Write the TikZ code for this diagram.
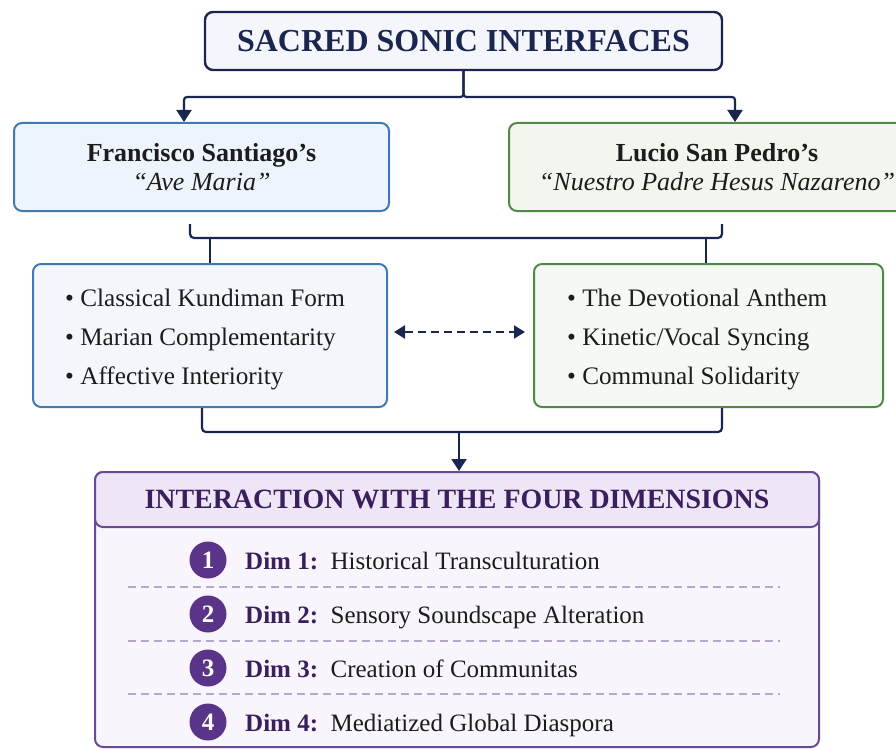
\documentclass[tikz,border=0pt]{standalone}
\usepackage{fontspec}
\setmainfont{Liberation Serif}
\usetikzlibrary{arrows.meta,calc}
\definecolor{navy}{HTML}{1B2650}
\definecolor{ink}{HTML}{1C1C1C}
\definecolor{titlefill}{HTML}{F4F6FB}
\definecolor{bluedraw}{HTML}{4279B3}
\definecolor{bluefill}{HTML}{EEF4FB}
\definecolor{greendraw}{HTML}{4F8B46}
\definecolor{greenfill}{HTML}{F1F6EE}
\definecolor{purpdraw}{HTML}{6A4A96}
\definecolor{hdrfill}{HTML}{EEE6F6}
\definecolor{bodyfill}{HTML}{F8F5FC}
\definecolor{hdrtext}{HTML}{3A1F5E}
\definecolor{circfill}{HTML}{5A3488}
\definecolor{seprule}{HTML}{B7A7CE}
\begin{document}
\begin{tikzpicture}[x=1pt,y=-1pt,
  box/.style={draw, rounded corners=8pt, line width=2pt, inner sep=0pt, align=center, text=ink},
  arr/.style={draw=navy, line width=2.2pt, rounded corners=3pt, -{Triangle[length=12pt,width=15pt]}},
  link/.style={draw=navy, line width=2.2pt, rounded corners=4pt},
  dasharr/.style={draw=navy, line width=2pt, dash pattern=on 8pt off 5pt,
     {Triangle[length=11pt,width=13pt]}-{Triangle[length=11pt,width=13pt]}},
  bul/.style={anchor=west, align=left, inner sep=0pt, text=ink, font=\fontsize{25.2}{39}\selectfont},
  numc/.style={circle, fill=circfill, minimum size=37pt, inner sep=0pt, text=white, font=\fontsize{25}{26}\selectfont\bfseries},
  dimtxt/.style={anchor=base west, inner sep=0pt, text=ink, font=\fontsize{25}{28}\selectfont},
  sep/.style={draw=seprule, line width=1.3pt, dash pattern=on 8pt off 5pt}
]
\useasboundingbox (0,0) rectangle (896,749);
\clip (0,0) rectangle (896,749);

% title
\node[box, draw=navy, fill=titlefill, line width=2.4pt, minimum width=517pt, minimum height=58pt,
      text=navy, font=\fontsize{32}{38}\selectfont\bfseries] (title) at (463.5,41) {SACRED SONIC INTERFACES};

% upper boxes
\node[box, draw=bluedraw, fill=bluefill, minimum width=375pt, minimum height=88pt,
      font=\fontsize{26}{29}\selectfont] (fs) at (201.5,167)
      {\bfseries Francisco Santiago’s\\\textit{“Ave Maria”}};
\node[box, draw=greendraw, fill=greenfill, minimum width=416pt, minimum height=88pt,
      font=\fontsize{26}{29}\selectfont] (lp) at (717,167)
      {\bfseries Lucio San Pedro’s\\\textit{“Nuestro Padre Hesus Nazareno”}};

% bullet boxes
\node[box, draw=bluedraw, fill=bluefill!70!white, minimum width=354pt, minimum height=143pt] (fsb) at (210,335.5) {};
\node[box, draw=greendraw, fill=greenfill!70!white, minimum width=349pt, minimum height=143pt] (lpb) at (708.5,335.5) {};
\node[bul] (fsbt) at (65,339) {\textbullet\ Classical Kundiman Form\\\textbullet\ Marian Complementarity\\\textbullet\ Affective Interiority};
\node[bul] (lpbt) at (567,339) {\textbullet\ The Devotional Anthem\\\textbullet\ Kinetic/Vocal Syncing\\\textbullet\ Communal Solidarity};

% bottom box
\node[box, draw=purpdraw, fill=bodyfill, minimum width=724pt, minimum height=275pt] (dims) at (457,609.5) {};
\node[box, draw=purpdraw, fill=hdrfill, minimum width=724pt, minimum height=55pt,
      text=hdrtext, font=\fontsize{27.9}{32}\selectfont\bfseries] (hdr) at (457,499.5) {INTERACTION WITH THE FOUR DIMENSIONS};

\node[numc] (n1) at (208,560) {1};
\node[numc] (n2) at (208,614) {2};
\node[numc] (n3) at (208,668) {3};
\node[numc] (n4) at (208,722) {4};
\node[dimtxt] (d1) at (245,569) {\textcolor{hdrtext}{\bfseries Dim 1:}\enspace Historical Transculturation};
\node[dimtxt] (d2) at (245,623) {\textcolor{hdrtext}{\bfseries Dim 2:}\enspace Sensory Soundscape Alteration};
\node[dimtxt] (d3) at (245,677) {\textcolor{hdrtext}{\bfseries Dim 3:}\enspace Creation of Communitas};
\node[dimtxt] (d4) at (245,731) {\textcolor{hdrtext}{\bfseries Dim 4:}\enspace Mediatized Global Diaspora};

\coordinate (s1l) at (128,587); \coordinate (s1r) at (780,587);
\coordinate (s2l) at (128,641); \coordinate (s2r) at (780,641);
\coordinate (s3l) at (128,694); \coordinate (s3r) at (780,694);
\draw[sep] (s1l) -- (s1r);
\draw[sep] (s2l) -- (s2r);
\draw[sep] (s3l) -- (s3r);

% connectors
\coordinate (ya) at (0,97);
\draw[arr] (title.south) -- (title.south |- ya) -| ([xshift=-17.5pt]fs.north);
\draw[arr] (title.south) -- (title.south |- ya) -| ([xshift=18pt]lp.north);

\coordinate (yb) at (0,238);
\draw[link] ([xshift=-11.5pt,yshift=-12pt]fs.south) |- ([xshift=5pt]lp.south |- yb) -- ([xshift=5pt,yshift=-12pt]lp.south);
\draw[link] (fsb.north |- yb) -- (fsb.north);
\draw[link] ([xshift=-2.5pt]lpb.north |- yb) -- ([xshift=-2.5pt]lpb.north);

\coordinate (yc) at (0,432);
\draw[link] ([xshift=-8pt]fsb.south) |- ([xshift=13.5pt]lpb.south |- yc) -- ([xshift=13.5pt]lpb.south);
\draw[arr] ([xshift=2pt]hdr.north |- yc) -- ([xshift=2pt]hdr.north);

\coordinate (yd) at (0,332);
\draw[dasharr] ([xshift=6pt]fsb.east |- yd) -- ([xshift=-8pt]lpb.west |- yd);
\end{tikzpicture}
\end{document}
